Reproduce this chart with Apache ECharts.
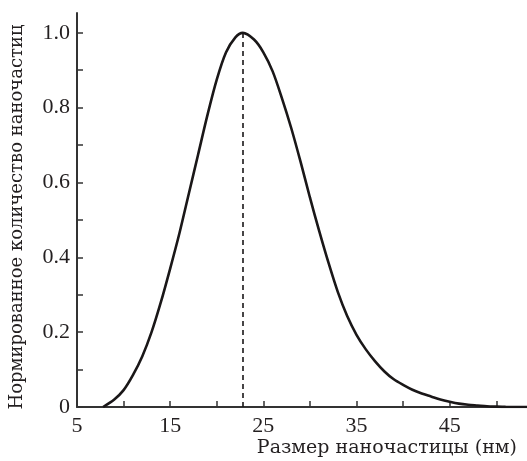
<!DOCTYPE html>
<html>
<head>
    <meta charset="utf-8">
    <title>Распределение наночастиц</title>
    <script src="https://cdn.jsdelivr.net/npm/echarts@6/dist/echarts.min.js"></script>
    <style>
        html, body {margin: 0; padding: 0; background: #fff;}
        #chart {width: 527px; height: 461px;}
    </style>
</head>
<body>
    <div id="chart"></div>
    <script type="text/javascript">
        // размер частиц, нм (ось X)
        var sizeNm = [7.8, 9, 10, 11, 12, 13, 14, 15, 16, 17, 18, 19, 20, 21, 22, 22.8,
            24, 25, 26, 27, 28, 29, 30, 31, 32, 33, 34, 35, 36, 37, 38, 39, 40,
            41, 42, 43, 44, 45, 46, 47, 48, 49, 50, 51, 53.3];
        // нормированное количество (ось Y)
        var normCount = [0, 0.02, 0.045, 0.085, 0.135, 0.2, 0.28, 0.37, 0.465, 0.57, 0.675, 0.78, 0.875, 0.948, 0.988, 1.0,
            0.982, 0.948, 0.897, 0.825, 0.745, 0.655, 0.56, 0.47, 0.385, 0.307, 0.243, 0.193, 0.154, 0.122, 0.095, 0.074, 0.059,
            0.046, 0.036, 0.028, 0.02, 0.014, 0.009, 0.006, 0.004, 0.002, 0.001, 0.0003, 0];
        var peakX = 22.8;
        var peakY = 1.0;

        var xLabels = [5, 15, 25, 35, 45];

        var points = sizeNm.map(function (x, i) { return [x, normCount[i]]; });
        var tickFont = 'Liberation Serif';
        var nameFont = 'DejaVu Serif';

        var chart = echarts.init(document.getElementById('chart'));
        var option = {
            animation: false,
            backgroundColor: '#fff',
            grid: {left: 77, right: 0, top: 13, bottom: 54, containLabel: false, outerBoundsMode: 'none'},
            xAxis: {
                type: 'value',
                min: 5,
                max: 53.3,
                interval: 5,
                name: 'Размер наночастицы (нм)',
                nameLocation: 'end',
                nameGap: 0,
                nameTextStyle: {
                    fontFamily: nameFont, fontSize: 19, color: '#231f20',
                    align: 'right', verticalAlign: 'top', padding: [32, 10, 0, 0]
                },
                splitLine: {show: false},
                axisLine: {show: true, lineStyle: {color: '#333', width: 2}},
                axisTick: {show: true, inside: true, length: 6, lineStyle: {color: '#333', width: 1.5}},
                axisLabel: {
                    fontFamily: tickFont, fontSize: 22, color: '#231f20', margin: 8,
                    showMaxLabel: false,
                    formatter: function (v) {
                        return xLabels.indexOf(Math.round(v)) >= 0 ? String(Math.round(v)) : '';
                    }
                }
            },
            yAxis: {
                type: 'value',
                min: 0,
                max: 1.053,
                interval: 0.1,
                name: 'Нормированное количество наночастиц',
                nameLocation: 'middle',
                nameRotate: 90,
                nameGap: 51,
                nameTextStyle: {fontFamily: nameFont, fontSize: 18, color: '#231f20', padding: [0, 14, 0, 0]},
                splitLine: {show: false},
                axisLine: {show: true, lineStyle: {color: '#333', width: 2}},
                axisTick: {show: true, inside: true, length: 6, lineStyle: {color: '#333', width: 1.5}},
                axisLabel: {
                    fontFamily: tickFont, fontSize: 22, color: '#231f20', margin: 7,
                    showMaxLabel: false,
                    formatter: function (v) {
                        var k = Math.round(v * 10);
                        if (k % 2 !== 0) return '';
                        if (k === 0) return '0';
                        return (k / 10).toFixed(1);
                    }
                }
            },
            series: [{
                type: 'line',
                data: points,
                smooth: 0.3,
                showSymbol: false,
                lineStyle: {color: '#1a1718', width: 2.6},
                markLine: {
                    silent: true,
                    symbol: ['none', 'none'],
                    label: {show: false},
                    lineStyle: {color: '#1a1718', type: [5, 4], width: 1.6},
                    data: [[{coord: [peakX, 0]}, {coord: [peakX, peakY]}]]
                }
            }]
        };
        chart.setOption(option);
    </script>
</body>
</html>
